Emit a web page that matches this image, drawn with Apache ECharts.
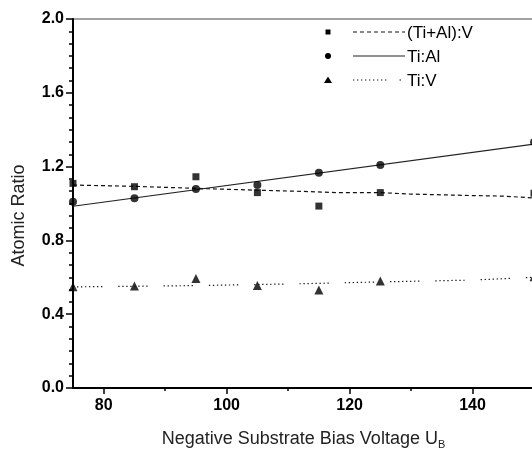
<!DOCTYPE html>
<html>
<head>
<meta charset="utf-8">
<script src="https://cdn.jsdelivr.net/npm/echarts@6/dist/echarts.min.js"></script>
<style>
html,body{margin:0;padding:0;background:#fff;}
#chart{width:532px;height:450px;}
</style>
</head>
<body>
<div id="chart"></div>
<script>
// ---- data ----
var biasVoltage = [75, 85, 95, 105, 115, 125, 150];
var tiAlV = [1.109, 1.091, 1.145, 1.059, 0.986, 1.059, 1.055];   // (Ti+Al):V  squares
var tiAl  = [1.010, 1.028, 1.079, 1.100, 1.167, 1.209, 1.333];   // Ti:Al      circles
var tiV   = [0.549, 0.553, 0.594, 0.555, 0.531, 0.580, 0.603];   // Ti:V       triangles

// guide lines drawn in the reference
var tiAlFitX = [75, 150];
var tiAlFitY = [0.985, 1.322];
var tiAlVLineX = [75, 85, 97, 105, 112, 118, 125, 130, 140, 145, 150];
var tiAlVLineY = [1.100, 1.093, 1.080, 1.072, 1.066, 1.059, 1.059, 1.051, 1.043, 1.040, 1.030];
var tiVLineX = [75, 95, 112, 125, 140, 150];
var tiVLineY = [0.548, 0.555, 0.565, 0.575, 0.585, 0.600];

var xMajorTicks = [80, 100, 120, 140];
var xMinorTicks = [90, 110, 130, 150];

var legendNames = ['(Ti+Al):V', 'Ti:Al', 'Ti:V'];

function pairs(xs, ys) { return xs.map(function (x, i) { return [x, ys[i]]; }); }

var FONT = '"Liberation Sans", Arial, sans-serif';
var chart = echarts.init(document.getElementById('chart'), null, {renderer: 'canvas'});

var dotDash = [];
for (var k = 0; k < 8; k++) { dotDash.push(1.3, 2.7); }
dotDash[dotDash.length - 1] = 16;

var option = {
  animation: false,
  backgroundColor: '#fff',
  grid: {left: 73, top: 19, width: 461, height: 369, show: true, borderColor: '#444', borderWidth: 1,
    containLabel: false, outerBoundsMode: 'none'},
  xAxis: [{
    type: 'value', min: 75, max: 150,
    axisLine: {show: true, lineStyle: {color: '#000', width: 2}},
    axisTick: {show: true, customValues: xMajorTicks, length: 6, lineStyle: {color: '#000', width: 1.5}},
    axisLabel: {show: true, customValues: xMajorTicks, margin: 10, color: '#000', fontFamily: FONT, fontSize: 16, fontWeight: 'bold'},
    splitLine: {show: false},
    name: '{n|Negative Substrate Bias Voltage U}{s|B}',
    nameLocation: 'middle', nameGap: 40,
    nameTextStyle: {
      color: '#222', fontFamily: FONT, fontSize: 18,
      rich: {
        n: {fontFamily: FONT, fontSize: 18, color: '#222'},
        s: {fontFamily: FONT, fontSize: 11, color: '#222', padding: [11, 0, 0, 0]}
      }
    }
  }, {
    type: 'value', min: 75, max: 150, position: 'bottom',
    axisLine: {show: false},
    axisTick: {show: true, customValues: xMinorTicks, length: 3, lineStyle: {color: '#000', width: 1.5}},
    axisLabel: {show: false},
    splitLine: {show: false}
  }],
  yAxis: {
    type: 'value', min: 0, max: 2, interval: 0.4,
    axisLine: {show: true, lineStyle: {color: '#000', width: 2}},
    axisTick: {show: true, length: 7, lineStyle: {color: '#000', width: 1.5}},
    minorTick: {show: true, splitNumber: 6, length: 4, lineStyle: {color: '#000', width: 1.5}},
    axisLabel: {margin: 9, color: '#000', fontFamily: FONT, fontSize: 16, fontWeight: 'bold',
      formatter: function (v) { return v.toFixed(1); }},
    splitLine: {show: false},
    name: 'Atomic Ratio', nameLocation: 'middle', nameGap: 45,
    nameTextStyle: {color: '#222', fontFamily: FONT, fontSize: 18, padding: [0, 24, 0, 0]}
  },
  series: [
    {name: legendNames[0] + ' line', type: 'line', data: pairs(tiAlVLineX, tiAlVLineY), showSymbol: false, symbol: 'none',
      lineStyle: {color: '#111', width: 1.2, type: [4, 3]}, z: 2},
    {name: legendNames[1] + ' fit', type: 'line', data: pairs(tiAlFitX, tiAlFitY), showSymbol: false, symbol: 'none',
      lineStyle: {color: '#222', width: 1.2, type: 'solid'}, z: 2},
    {name: legendNames[2] + ' line', type: 'line', data: pairs(tiVLineX, tiVLineY), showSymbol: false, symbol: 'none',
      lineStyle: {color: '#111', width: 1.2, type: dotDash}, z: 2},
    {name: legendNames[0], type: 'scatter', data: pairs(biasVoltage, tiAlV), symbol: 'rect', symbolSize: 7,
      itemStyle: {color: '#000'}, z: 3, clip: false},
    {name: legendNames[1], type: 'scatter', data: pairs(biasVoltage, tiAl), symbol: 'circle', symbolSize: 8,
      itemStyle: {color: '#000'}, z: 3, clip: false},
    {name: legendNames[2], type: 'scatter', data: pairs(biasVoltage, tiV), symbol: 'triangle', symbolSize: 9,
      itemStyle: {color: '#000'}, z: 3, clip: false}
  ],
  graphic: [
    // legend row 1
    {type: 'rect', shape: {x: 325.5, y: 29.5, width: 5, height: 5}, style: {fill: '#000'}},
    {type: 'line', shape: {x1: 353, y1: 32, x2: 405, y2: 32}, style: {stroke: '#111', lineWidth: 1.2, lineDash: [4, 3]}},
    {type: 'text', x: 407, y: 33, style: {text: legendNames[0], font: '17px ' + FONT, fill: '#000', verticalAlign: 'middle'}},
    // legend row 2
    {type: 'circle', shape: {cx: 328, cy: 56, r: 3}, style: {fill: '#000'}},
    {type: 'line', shape: {x1: 353, y1: 56, x2: 405, y2: 56}, style: {stroke: '#222', lineWidth: 1.2}},
    {type: 'text', x: 407, y: 57, style: {text: legendNames[1], font: '17px ' + FONT, fill: '#000', verticalAlign: 'middle'}},
    // legend row 3
    {type: 'polygon', shape: {points: [[328, 76.5], [324, 83], [332, 83]]}, style: {fill: '#000'}},
    {type: 'line', shape: {x1: 353, y1: 80, x2: 389, y2: 80}, style: {stroke: '#111', lineWidth: 1.2, lineDash: [1.3, 2.7]}},
    {type: 'line', shape: {x1: 399.5, y1: 80, x2: 401, y2: 80}, style: {stroke: '#111', lineWidth: 1.2}},
    {type: 'text', x: 407, y: 81, style: {text: legendNames[2], font: '17px ' + FONT, fill: '#000', verticalAlign: 'middle'}}
  ]
};
chart.setOption(option);
</script>
</body>
</html>
